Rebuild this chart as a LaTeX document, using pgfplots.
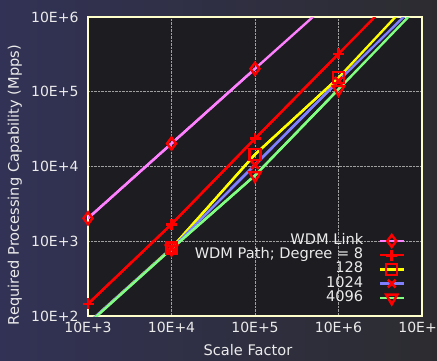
\documentclass[border=0pt]{standalone}
\usepackage{pgfplots}
\pgfplotsset{compat=1.18}
\usepackage{fontspec}
\setmainfont{DejaVu Sans}
\definecolor{bgA}{RGB}{50,50,86}
\definecolor{bgB}{RGB}{44,44,48}
\definecolor{plotbg}{RGB}{28,28,33}
\definecolor{frame}{RGB}{255,255,204}
\definecolor{txt}{RGB}{235,235,235}
\definecolor{cpink}{RGB}{255,128,255}
\definecolor{cred}{RGB}{255,0,0}
\definecolor{cyel}{RGB}{255,255,0}
\definecolor{cblue}{RGB}{128,128,255}
\definecolor{cgreen}{RGB}{128,255,128}
\newcommand{\fs}{\fontsize{14}{15}\selectfont}
\newcommand{\fl}{\fontsize{14.6}{15}\selectfont}
\begin{document}
\begin{tikzpicture}
\shade[left color=bgA, right color=bgB] (0,0) rectangle (437pt,360pt);
\path[use as bounding box] (0,0) rectangle (437pt,360pt);
\begin{axis}[
  at={(88pt,44pt)}, anchor=south west,
  scale only axis, width=334pt, height=299pt,
  xmode=log, ymode=log,
  xmin=1e3, xmax=1e7, ymin=1e2, ymax=1e6,
  xtick={1e3,1e4,1e5,1e6,1e7},
  xticklabels={10E+3,10E+4,10E+5,10E+6,10E+7},
  ytick={1e2,1e3,1e4,1e5,1e6},
  yticklabels={10E+2,10E+3,10E+4,10E+5,10E+6},
  major tick length=0pt,
  xminorticks=false, yminorticks=false,
  tick label style={font=\fs, text=txt},
  xticklabel style={yshift=-3pt},
  yticklabel style={xshift=-6pt},
  label style={font=\fl, text=txt},
  xlabel={Scale Factor},
  ylabel={Required Processing Capability (Mpps)},
  xlabel style={at={(axis description cs:0.479,0)}, anchor=center, yshift=-34pt},
  ylabel style={at={(axis description cs:-0.219,0.438)}, anchor=center},
  grid=major,
  major grid style={densely dotted, color=gray!75, line width=0.6pt},
  axis line style={draw=frame, line width=2.5pt},
  axis background/.style={fill=plotbg},
  clip marker paths=false,
  every axis plot/.append style={line width=2.4pt},
  legend image code/.code={\draw[#1, mark repeat=2, mark phase=2, overlay] plot coordinates {(0pt,0pt) (12pt,0pt) (24pt,0pt)};
    \path[draw=none, fill=none] (0pt,-3pt) (24pt,8pt);},
  legend plot pos=right,
  legend cell align=right,
  legend style={draw=none, fill=none, font=\fl, text=txt,
    at={(0.955,0.03)}, anchor=south east, row sep=-0.8pt,
    nodes={inner sep=0.5pt, text height=10pt, text depth=3pt},
    /tikz/every odd column/.append style={column sep=16pt}},
]
% full lines (clipped), no markers
\addplot[cpink, forget plot] coordinates {(1e3,2030) (1e4,20300) (1e5,203000) (1e6,2030000)};
\addplot[cred, forget plot] coordinates {(1e3,145) (1e4,1690) (1e5,23600) (1e6,321000) (1e7,4.4e6)};
\addplot[cyel, forget plot] coordinates {(1e3,80) (1e4,810) (1e5,14500) (1e6,154000) (1e7,2.4e6)};
\addplot[cblue, forget plot] coordinates {(1e3,80) (1e4,800) (1e5,10500) (1e6,140000) (1e7,1.75e6)};
\addplot[cgreen, forget plot] coordinates {(1e3,78) (1e4,790) (1e5,7600) (1e6,108000) (1e7,1.55e6)};
% marked points within range
\addplot[cpink, mark=diamond, mark size=6pt,
  mark options={draw=cred, line width=2.4pt, fill=none, solid}]
  coordinates {(1e3,2030) (1e4,20300) (1e5,203000)};
\addlegendentry{WDM Link}
\addplot[cred, mark=+, mark size=5.5pt,
  mark options={draw=cred, line width=2.6pt, solid}]
  coordinates {(1e3,145) (1e4,1690) (1e5,23600) (1e6,321000)};
\addlegendentry{WDM Path; Degree = 8}
\addplot[cyel, mark=square, mark size=5.5pt,
  mark options={draw=cred, line width=2.4pt, fill=none, solid}]
  coordinates {(1e4,810) (1e5,14500) (1e6,154000)};
\addlegendentry{128}
\addplot[cblue, mark=x, mark size=5.5pt,
  mark options={draw=cred, line width=2.6pt, solid}]
  coordinates {(1e4,800) (1e5,10500) (1e6,140000)};
\addlegendentry{1024}
\addplot[cgreen, mark=triangle, mark size=6.5pt,
  mark options={draw=cred, line width=2.4pt, fill=none, solid, rotate=180}]
  coordinates {(1e4,790) (1e5,7600) (1e6,108000)};
\addlegendentry{4096}
\end{axis}
\end{tikzpicture}
\end{document}
